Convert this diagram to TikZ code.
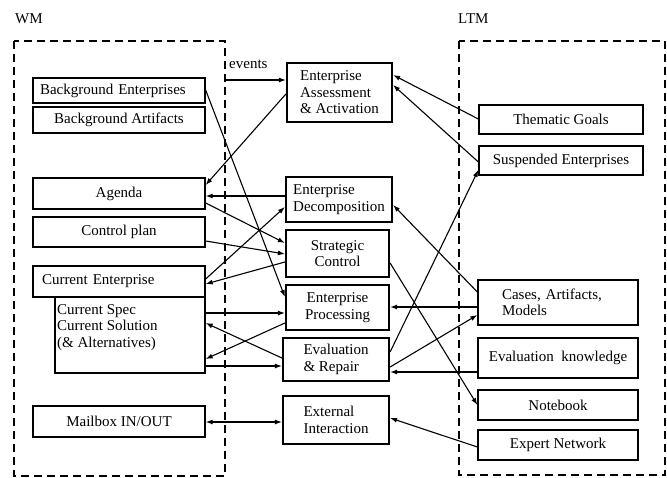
\documentclass[tikz,border=0pt]{standalone}
\usepackage{fontspec}
\setmainfont{Liberation Serif}
\usetikzlibrary{arrows.meta}
\begin{document}
\begin{tikzpicture}[x=1pt,y=-1pt,
 font=\fontsize{15}{16.5}\selectfont,
 lbox/.style={draw, line width=1.3pt, inner sep=2pt, align=center},
 mbox/.style={draw, line width=2.2pt, inner sep=2pt, align=left},
 region/.style={draw, line width=1.2pt, dash pattern=on 8pt off 5pt},
 arr/.style={line width=1.1pt, -{Latex[length=7pt,width=5pt]}},
 darr/.style={line width=1.1pt, {Latex[length=7pt,width=5pt]}-{Latex[length=7pt,width=5pt]}}]
\useasboundingbox (0,0) rectangle (667,477);
% regions
\draw[region] (14,41) rectangle (225,476);
\draw[region] (459,41) rectangle (665,475);
\node[anchor=west, inner sep=0] (wm) at (15,19) {WM};
\node[anchor=west, inner sep=0] (ltm) at (458,19) {LTM};
% WM boxes
\node[lbox, minimum width=172pt, minimum height=25pt, text width=158pt, inner xsep=7pt, align=left] (be) at (119,90.5) {Background Enterprises};
\node[lbox, minimum width=172pt, minimum height=26pt] (ba) at (119,120) {Background Artifacts};
\node[lbox, minimum width=172pt, minimum height=31pt] (ag) at (119,193.5) {Agenda};
\node[lbox, minimum width=172pt, minimum height=30pt] (cp) at (119,232) {Control plan};
\node[lbox, minimum width=172pt, minimum height=31pt, text width=154pt, inner xsep=9pt, align=left] (ce) at (119,281.5) {Current Enterprise};
\node[lbox, minimum width=150pt, minimum height=76pt] (cs) at (130,335) {};
\node[anchor=north west, inner sep=0, align=left] (cst) at (57,304) {Current Spec\\Current Solution\\(\& Alternatives)};
\node[lbox, minimum width=172pt, minimum height=31pt] (mb) at (119,421.5) {Mailbox IN/OUT};
% middle boxes
\node[mbox, minimum width=105pt, minimum height=59pt] (ea) at (339.5,92.5) {Enterprise\\Assessment\\\& Activation};
\node[mbox, minimum width=106pt, minimum height=45pt] (ed) at (339,199.5) {Enterprise\\Decomposition};
\node[mbox, minimum width=103pt, minimum height=47pt, align=center] (sc) at (337.5,253.5) {Strategic\\Control};
\node[mbox, minimum width=103pt, minimum height=45pt, align=center] (ep) at (337.5,307.5) {Enterprise\\Processing};
\node[mbox, minimum width=106pt, minimum height=43pt] (er) at (336,359.5) {Evaluation\\\& Repair};
\node[mbox, minimum width=106pt, minimum height=48pt] (ei) at (336,420) {External\\Interaction};
% LTM boxes
\node[lbox, minimum width=164pt, minimum height=29pt] (tg) at (561,119.5) {Thematic Goals};
\node[lbox, minimum width=164pt, minimum height=29pt] (se) at (561,160.5) {Suspended Enterprises};
\node[lbox, minimum width=160pt, minimum height=45pt, text width=112pt, inner xsep=24pt, align=left] (cam) at (558,302.5) {Cases, Artifacts,\\Models};
\node[lbox, minimum width=160pt, minimum height=40pt] (ek) at (558,358) {Evaluation\ \ knowledge};
\node[lbox, minimum width=160pt, minimum height=30pt] (nb) at (558,405) {Notebook};
\node[lbox, minimum width=160pt, minimum height=30pt] (en) at (558,445) {Expert Network};
% events
\coordinate (evs) at (225,80);
\draw[arr] (evs) -- (ea.west |- evs);
\node[anchor=west, inner sep=0] (evl) at (229,64) {events};
% connectors left side
\draw[arr] (ea.west |- 0,94) -- (ag.east |- 0,185);
\draw[arr] (be.east |- 0,90) -- (ep.west |- 0,297);
\draw[arr] (ed.west |- 0,196) -- (ag.east |- 0,196);
\draw[arr] (ag.east |- 0,203) -- (sc.west |- 0,243);
\draw[arr] (cp.east |- 0,241) -- (sc.west |- 0,254);
\draw[arr] (ce.east |- 0,279) -- (ed.west |- 0,207);
\draw[arr] (sc.west |- 0,262) -- (ce.east |- 0,284);
\draw[arr] (cs.east |- 0,313) -- (ep.west |- 0,313);
\draw[arr] (ep.west |- 0,323) -- (cs.east |- 0,359);
\draw[arr] (er.west |- 0,358) -- (cs.east |- 0,323);
\draw[arr] (cs.east |- 0,366) -- (er.west |- 0,366);
\draw[darr] (mb.east |- 0,422) -- (ei.west |- 0,422);
% connectors right side
\draw[arr] (tg.west |- 0,119) -- (ea.east |- 0,75);
\draw[arr] (se.west |- 0,162) -- (ea.east |- 0,85);
\draw[arr] (cam.west |- 0,292) -- (ed.east |- 0,205);
\draw[arr] (er.east |- 0,352) -- (se.west |- 0,170);
\draw[arr] (sc.east |- 0,263) -- (nb.west |- 0,405);
\draw[arr] (cam.west |- 0,307) -- (ep.east |- 0,307);
\draw[arr] (er.east |- 0,367) -- (cam.west |- 0,315);
\draw[arr] (ek.west |- 0,372) -- (er.east |- 0,372);
\draw[arr] (en.west |- 0,447) -- (ei.east |- 0,418);
\end{tikzpicture}
\end{document}
